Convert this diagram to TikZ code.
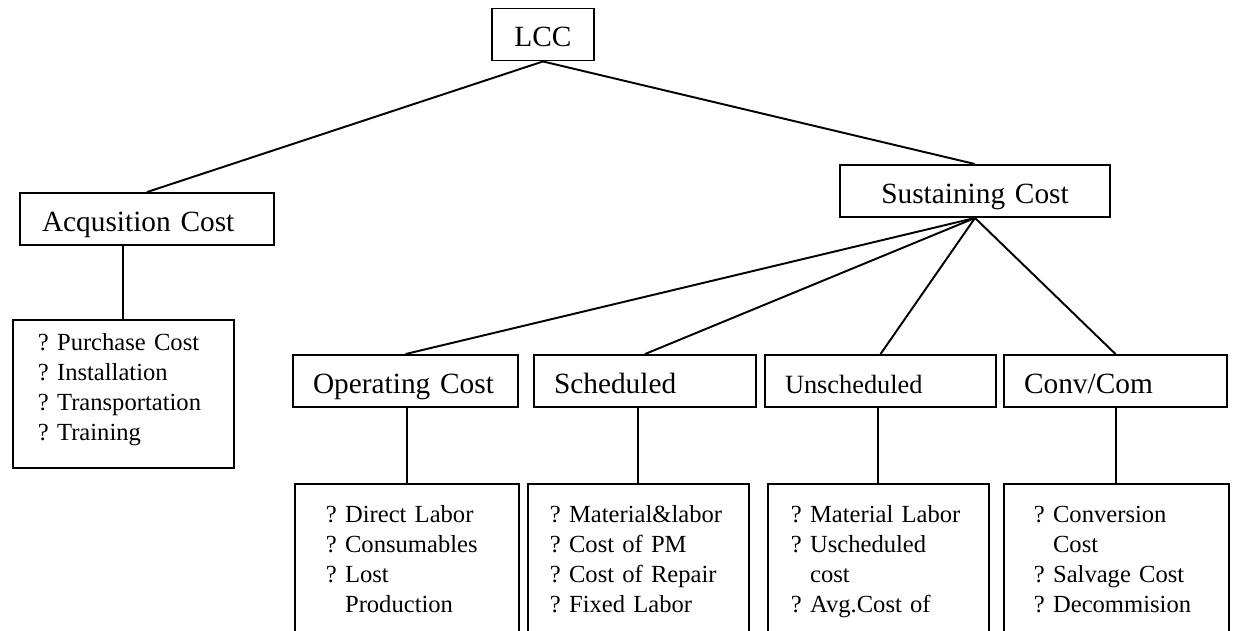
\documentclass[tikz,border=0pt]{standalone}
\usepackage{fontspec}
\setmainfont{Liberation Serif}
\frenchspacing
\hyphenpenalty=10000
\exhyphenpenalty=10000
\begin{document}
\begin{tikzpicture}[x=0.02cm, y=-0.02cm]
      \tikzset{cat/.style={draw, line width=1.1pt, align=left, font=\fontsize{16.7}{20}\selectfont, inner xsep=0.4cm, text height=0.5cm, text depth=0.02cm, minimum height=1.04cm}}
      \tikzset{list/.style={draw, line width=1.1pt, align=left, anchor=north west, font=\fontsize{14}{17}\selectfont, inner ysep=0.44cm, text height=0.34cm, text depth=2.6cm}}
      \tikzset{conn/.style={line width=1.1pt}}
      \useasboundingbox (0,0) rectangle (1233,630);
      \clip (0,0) rectangle (1233,630);
%% Boxes
	%top levels
      	\node[cat, align=center, inner xsep=0pt, minimum width=2.04cm] (lcc) at (543,34.5) {LCC};
      	\node[cat, text width=4.2cm, inner xsep=0.44cm] (acq) at (147,219) {Acqusition Cost};
      	\node[cat, align=center, text width=4.6cm] (sus) at (975,191) {Sustaining Cost};
	%sustaining parts
      	\node[cat, text width=3.7cm] (op) at (405.5,381) {Operating Cost};
      	\node[cat, text width=3.64cm] (sch) at (645,381) {Scheduled};
      	\node[cat, text width=3.82cm, font=\fontsize{15}{18}\selectfont] (uns) at (880.5,381) {Unscheduled};
      	\node[cat, text width=3.66cm] (conv) at (1115.5,381) {Conv/Com};
	%lists
      	\node[list, inner xsep=0.5cm, text width=3.42cm, inner ysep=0.28cm, text depth=2.06cm] (purch) at (12,319) {? Purchase Cost\\? Installation\\? Transportation\\? Training};
      	\node[list, inner xsep=0.62cm, text width=3.24cm] (opl) at (294,483) {? Direct Labor\\? Consumables\\? Lost\\\hphantom{?~}Production};
      	\node[list, inner xsep=0.44cm, text width=3.54cm] (schl) at (527,483) {? Material\&labor\\? Cost of PM\\? Cost of Repair\\? Fixed Labor};
      	\node[list, inner xsep=0.46cm, text width=3.50cm] (unsl) at (767,483) {? Material Labor\\? Uscheduled\\\hphantom{?~}cost\\? Avg.Cost of};
      	\node[list, inner xsep=0.6cm, text width=3.30cm] (convl) at (1003,483) {? Conversion\\\hphantom{?~}Cost\\? Salvage Cost\\? Decommision};
%Edges
		\path [conn] (lcc.south) edge (acq.north);
		\path [conn] (lcc.south) edge (sus.north);
		\path [conn] (purch.north) edge (purch.north |- acq.south);
		\path [conn] (sus.south) edge (op.north);
		\path [conn] (sus.south) edge (sch.north);
		\path [conn] (sus.south) edge (uns.north);
		\path [conn] (sus.south) edge (conv.north);
		\path [conn] (opl.north) edge (opl.north |- op.south);
		\path [conn] (schl.north) edge (schl.north |- sch.south);
		\path [conn] (unsl.north) edge (unsl.north |- uns.south);
		\path [conn] (convl.north) edge (convl.north |- conv.south);

\end{tikzpicture}
\end{document}
